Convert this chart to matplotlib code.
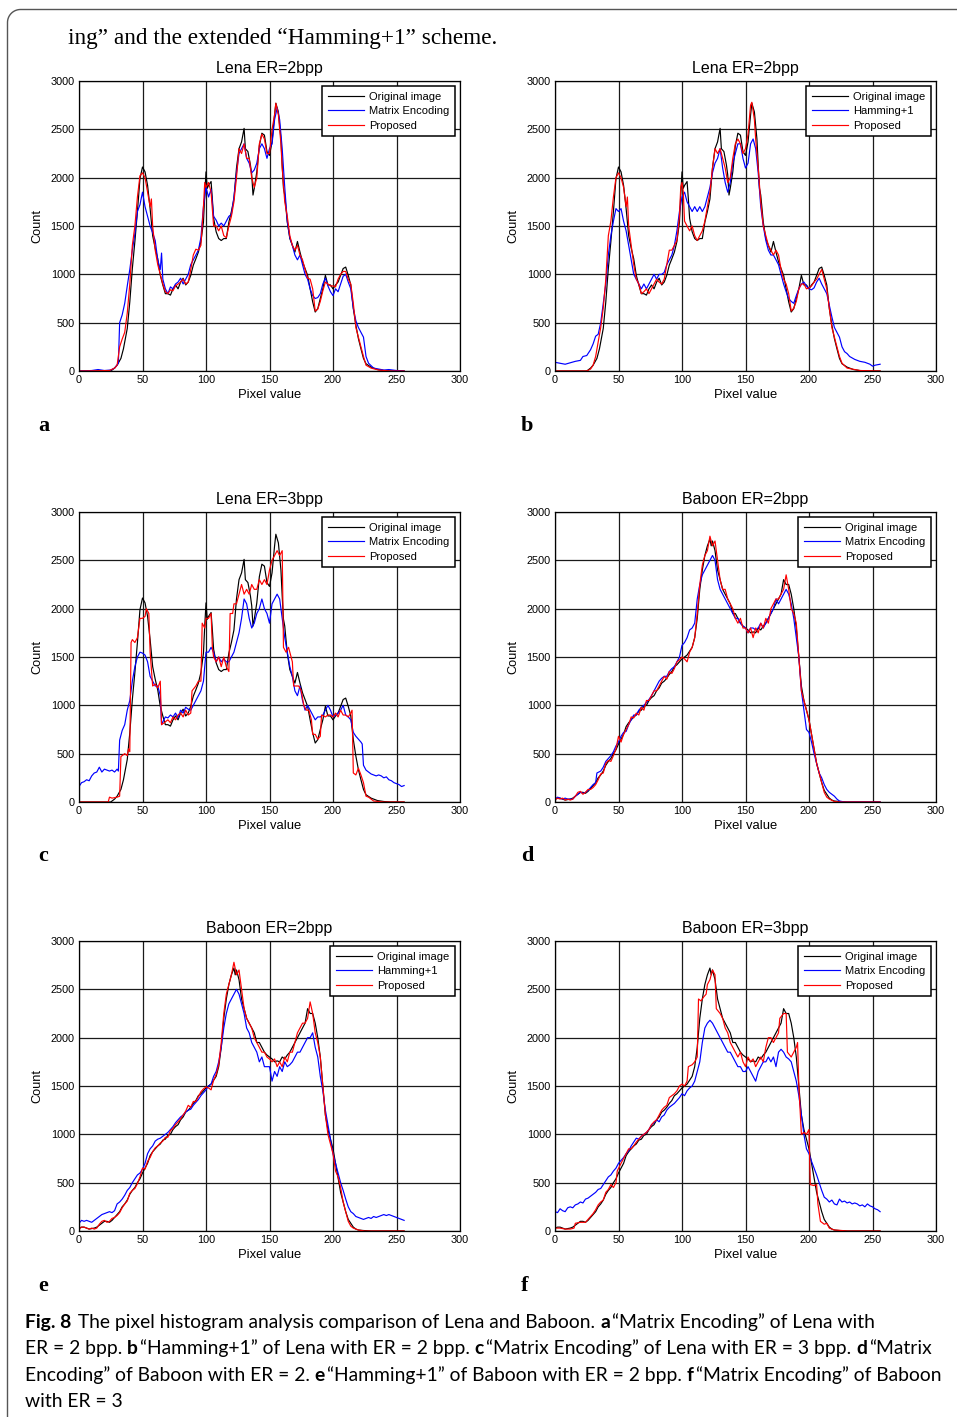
import numpy as np
import matplotlib
matplotlib.use("Agg")
import matplotlib.pyplot as plt
from matplotlib.lines import Line2D

plt.rcParams['font.family'] = ['Liberation Sans', 'DejaVu Sans']

# ---------------- data (pixel value: count) ----------------
lena_original = {0: 0, 25: 0, 28: 30, 30: 60, 33: 130, 35: 230, 38: 440, 40: 715, 42: 1060, 44: 1340, 46: 1650,
                 48: 1990, 50: 2110, 52: 2060, 54: 1920, 56: 1680, 58: 1400, 60: 1270, 62: 1160, 64: 990, 66: 890,
                 68: 800, 70: 800, 72: 785, 74: 850, 76: 890, 78: 850, 80: 920, 82: 960, 84: 890, 86: 920, 88: 990,
                 90: 1095, 92: 1160, 94: 1230, 96: 1340, 98: 1540, 99: 1820, 100: 2060, 101: 1890, 102: 1920,
                 104: 1960, 105: 1780, 106: 1580, 108: 1440, 110: 1370, 112: 1350, 114: 1370, 116: 1370, 118: 1540,
                 120: 1650, 122: 1780, 124: 2100, 126: 2300, 128: 2370, 130: 2510, 131: 2300, 133: 2270, 135: 2130,
                 136: 2030, 137: 1820, 138: 1890, 140: 2060, 142: 2330, 144: 2460, 146: 2440, 148: 2270, 150: 2230,
                 152: 2370, 154: 2650, 155: 2770, 157: 2680, 159: 2400, 160: 2130, 161: 1890, 162: 1820, 164: 1540,
                 166: 1370, 168: 1300, 170: 1230, 172: 1340, 174: 1230, 176: 1130, 178: 1060, 180: 990, 182: 850,
                 184: 715, 186: 610, 188: 645, 190: 750, 192: 850, 194: 990, 196: 890, 198: 890, 200: 850, 202: 890,
                 204: 920, 206: 990, 208: 1060, 210: 1075, 212: 990, 214: 890, 216: 645, 218: 475, 220: 335,
                 222: 230, 224: 130, 226: 75, 230: 40, 235: 15, 240: 5, 245: 0, 256: 0}

lena_me_2bpp = {0: 0, 10: 5, 15: 15, 20: 5, 25: 10, 28: 30, 31: 80, 32: 500, 34: 580, 36: 700, 38: 880, 40: 1050,
                42: 1250, 44: 1420, 46: 1650, 48: 1720, 50: 1850, 52: 1700, 54: 1600, 56: 1500, 58: 1430, 60: 1350,
                62: 1150, 64: 1050, 65: 1220, 66: 950, 68: 850, 70: 800, 72: 870, 74: 850, 76: 900, 78: 920, 80: 960,
                82: 900, 84: 950, 86: 1000, 88: 1100, 90: 1150, 92: 1200, 94: 1250, 96: 1380, 98: 1700, 100: 1900,
                102: 1800, 104: 1880, 106: 1600, 108: 1560, 110: 1500, 112: 1530, 114: 1500, 116: 1550, 118: 1600,
                120: 1620, 122: 1800, 124: 2050, 126: 2250, 128: 2300, 130: 2350, 132: 2200, 134: 2150, 136: 2050,
                138: 2080, 140: 2150, 142: 2300, 144: 2350, 146: 2300, 148: 2200, 150: 2300, 152: 2350, 154: 2600,
                156: 2720, 158: 2600, 160: 2300, 162: 1900, 164: 1550, 166: 1380, 168: 1300, 170: 1200, 172: 1150,
                174: 1200, 176: 1100, 178: 1000, 180: 950, 182: 850, 184: 780, 186: 750, 188: 760, 190: 800,
                192: 900, 194: 960, 196: 880, 198: 820, 200: 780, 202: 850, 204: 820, 206: 900, 208: 980, 210: 1000,
                212: 920, 214: 850, 216: 650, 218: 520, 220: 450, 222: 400, 224: 350, 226: 150, 228: 80, 232: 30,
                240: 10, 244: 15, 250: 5, 256: 0}

lena_prop_2bpp = {0: 0, 24: 5, 28: 30, 30: 60, 32: 250, 34: 330, 36: 400, 38: 600, 40: 900, 42: 1300, 44: 1500,
                  46: 1800, 48: 2020, 50: 2050, 52: 2000, 54: 1850, 56: 1700, 57: 1780, 58: 1500, 60: 1250, 62: 1100,
                  64: 1000, 66: 900, 68: 820, 70: 800, 72: 840, 74: 830, 76: 880, 78: 900, 80: 920, 82: 950, 84: 900,
                  86: 920, 88: 1050, 90: 1200, 92: 1260, 94: 1250, 96: 1300, 98: 1700, 99: 1950, 100: 1900,
                  102: 1950, 104: 1850, 106: 1500, 108: 1500, 110: 1450, 112: 1500, 114: 1400, 116: 1380, 118: 1500,
                  120: 1600, 122: 1750, 124: 2000, 126: 2300, 128: 2250, 130: 2350, 132: 2200, 134: 2200, 136: 2000,
                  138: 1900, 140: 2000, 142: 2350, 144: 2450, 146: 2400, 148: 2250, 150: 2250, 152: 2500, 154: 2650,
                  155: 2770, 157: 2650, 159: 2350, 160: 2100, 162: 1750, 164: 1600, 166: 1400, 168: 1300, 170: 1250,
                  172: 1300, 174: 1200, 176: 1150, 178: 1050, 180: 960, 182: 950, 184: 850, 186: 620, 188: 640,
                  190: 720, 192: 830, 194: 920, 196: 900, 198: 880, 200: 880, 202: 870, 204: 950, 206: 1000,
                  208: 1030, 210: 1030, 212: 950, 214: 900, 216: 700, 218: 450, 220: 350, 222: 250, 224: 150,
                  226: 60, 230: 30, 236: 10, 245: 0, 256: 0}

lena_h1_2bpp = {0: 90, 4: 80, 8: 70, 12: 85, 16: 100, 20: 110, 22: 150, 25: 160, 28: 220, 30: 280, 32: 360, 34: 380,
                36: 500, 38: 700, 40: 900, 42: 1200, 44: 1400, 46: 1550, 48: 1680, 50: 1650, 52: 1680, 54: 1550,
                56: 1450, 58: 1300, 60: 1150, 62: 1000, 64: 950, 66: 900, 68: 850, 70: 900, 72: 850, 74: 900,
                76: 950, 78: 1000, 80: 950, 82: 1000, 84: 1000, 86: 1020, 88: 1100, 90: 1150, 92: 1200, 94: 1300,
                96: 1450, 98: 1650, 100: 1800, 102: 1850, 104: 1750, 106: 1700, 108: 1650, 110: 1700, 112: 1650,
                114: 1700, 116: 1650, 118: 1700, 120: 1800, 122: 1900, 124: 2050, 126: 2150, 128: 2200, 130: 2300,
                132: 2100, 134: 1950, 136: 1850, 138: 1950, 140: 2150, 142: 2250, 144: 2350, 146: 2350, 148: 2200,
                150: 2100, 152: 2150, 154: 2350, 156: 2400, 158: 2300, 160: 2050, 162: 1700, 164: 1500, 166: 1350,
                168: 1250, 170: 1200, 172: 1200, 174: 1150, 176: 1100, 178: 1000, 180: 900, 182: 820, 184: 750,
                186: 720, 188: 700, 190: 780, 192: 850, 194: 900, 196: 920, 198: 880, 200: 850, 202: 840, 204: 860,
                206: 920, 208: 960, 210: 900, 212: 850, 214: 800, 216: 680, 218: 560, 220: 450, 222: 400, 224: 350,
                226: 250, 228: 200, 230: 180, 232: 150, 236: 120, 240: 100, 244: 90, 248: 70, 250: 50, 252: 60,
                256: 70}

lena_prop_h1 = {0: 0, 25: 0, 28: 20, 30: 60, 32: 150, 34: 300, 36: 450, 38: 650, 40: 950, 42: 1400, 44: 1550,
                46: 1800, 48: 2000, 50: 2050, 52: 2000, 54: 1900, 56: 1700, 57: 1800, 58: 1500, 60: 1300, 62: 1100,
                64: 950, 66: 900, 68: 800, 70: 820, 72: 850, 74: 800, 76: 850, 78: 900, 80: 950, 82: 920, 84: 900,
                86: 950, 88: 1100, 90: 1250, 92: 1250, 94: 1300, 96: 1350, 98: 1600, 99: 1900, 100: 1950, 101: 1850,
                102: 1550, 104: 1500, 106: 1450, 108: 1500, 110: 1400, 112: 1350, 114: 1400, 116: 1450, 118: 1550,
                120: 1700, 122: 1850, 124: 2100, 126: 2300, 128: 2250, 130: 2300, 132: 2200, 134: 2100, 136: 1950,
                138: 2000, 140: 2200, 142: 2350, 144: 2400, 146: 2350, 148: 2250, 150: 2300, 152: 2450, 154: 2750,
                155: 2780, 157: 2600, 158: 2400, 160: 2100, 162: 1750, 164: 1500, 166: 1400, 168: 1300, 170: 1250,
                172: 1200, 174: 1250, 176: 1200, 178: 1050, 180: 950, 182: 900, 184: 800, 186: 620, 188: 650,
                190: 720, 192: 850, 194: 900, 196: 900, 198: 850, 200: 860, 202: 880, 204: 920, 206: 950, 208: 1000,
                210: 1050, 212: 950, 214: 850, 216: 650, 218: 450, 220: 350, 222: 250, 224: 150, 226: 80, 230: 30,
                240: 5, 256: 0}

lena_me_3bpp = {0: 160, 2: 200, 4: 210, 6: 230, 8: 220, 10: 270, 12: 300, 14: 310, 16: 360, 18: 310, 20: 340,
                22: 330, 24: 320, 26: 330, 28: 310, 30: 340, 31: 320, 32: 640, 34: 740, 36: 800, 38: 950, 40: 1050,
                42: 1250, 44: 1400, 46: 1500, 48: 1550, 50: 1540, 52: 1520, 54: 1450, 56: 1300, 58: 1250, 60: 1200,
                62: 1200, 64: 1100, 65: 800, 66: 830, 68: 880, 70: 870, 72: 900, 74: 880, 76: 920, 78: 870, 80: 950,
                82: 920, 84: 980, 86: 960, 88: 950, 90: 1000, 92: 1050, 94: 1100, 96: 1150, 98: 1250, 100: 1550,
                102: 1550, 104: 1600, 106: 1550, 108: 1450, 110: 1500, 112: 1450, 114: 1480, 116: 1450, 118: 1450,
                120: 1500, 122: 1550, 124: 1650, 126: 1750, 128: 1900, 130: 2100, 132: 2050, 134: 1900, 136: 1800,
                138: 1850, 140: 1950, 142: 2000, 144: 2100, 146: 2000, 148: 1950, 150: 1850, 152: 2050, 154: 2100,
                156: 2150, 158: 2100, 160: 1900, 162: 1700, 164: 1550, 166: 1400, 168: 1300, 170: 1150, 172: 1100,
                174: 1200, 176: 1050, 178: 950, 180: 1000, 182: 950, 184: 900, 186: 850, 188: 880, 190: 880,
                192: 900, 194: 950, 196: 1000, 198: 950, 200: 880, 202: 900, 204: 920, 206: 950, 208: 1000, 210: 900,
                212: 880, 214: 850, 216: 720, 218: 680, 220: 650, 222: 620, 223: 600, 224: 380, 226: 330, 228: 310,
                230: 290, 232: 280, 234: 270, 236: 280, 238: 270, 240: 250, 242: 260, 244: 230, 246: 220, 248: 200,
                250: 190, 252: 180, 254: 160, 256: 170}

lena_prop_3bpp = {0: 0, 23: 0, 24: 50, 26: 40, 30: 50, 32: 60, 33: 470, 36: 500, 38: 480, 39: 550, 40: 520,
                  41: 1650, 42: 1680, 44: 1650, 46: 1700, 48: 1900, 50: 1900, 52: 1920, 53: 2000, 55: 1950, 56: 1550,
                  58: 1200, 60: 1220, 62: 1180, 64: 1250, 65: 800, 68: 830, 70: 850, 72: 820, 74: 880, 76: 850,
                  78: 900, 80: 920, 82: 880, 84: 950, 86: 900, 88: 920, 89: 1150, 92: 1200, 94: 1250, 96: 1250,
                  97: 1850, 99: 1800, 100: 1900, 102: 1900, 104: 1950, 105: 1600, 106: 1500, 108: 1450, 110: 1500,
                  112: 1400, 114: 1500, 116: 1400, 118: 1350, 119: 1950, 121: 1950, 122: 2050, 124: 2050, 126: 2150,
                  128: 2250, 130: 2150, 132: 2200, 134: 2150, 136: 2250, 138: 2200, 140: 2200, 142: 2300, 144: 2250,
                  146: 2300, 148: 2250, 150: 2400, 152: 2500, 154: 2550, 156: 2600, 158: 2550, 160: 2600, 161: 1600,
                  163: 1550, 165: 1600, 167: 1500, 168: 1450, 169: 1200, 171: 1200, 173: 1200, 175: 1150, 177: 1000,
                  179: 950, 181: 950, 183: 850, 184: 700, 186: 700, 188: 650, 190: 680, 191: 900, 194: 880, 196: 900,
                  198: 900, 200: 880, 202: 920, 204: 880, 206: 950, 208: 900, 210: 900, 212: 880, 214: 920, 215: 950,
                  216: 300, 218: 280, 220: 350, 222: 280, 224: 200, 226: 60, 228: 50, 230: 30, 232: 10, 236: 5,
                  240: 0, 256: 0}

baboon_original = {0: 30, 2: 40, 4: 40, 6: 30, 8: 20, 10: 25, 12: 30, 14: 40, 16: 60, 18: 80, 20: 100, 22: 100,
                   24: 90, 26: 110, 28: 140, 30: 170, 32: 200, 34: 250, 36: 280, 38: 320, 40: 380, 42: 420, 44: 450,
                   46: 500, 48: 540, 50: 600, 52: 650, 54: 700, 56: 780, 58: 820, 60: 850, 62: 880, 64: 900, 66: 940,
                   68: 950, 70: 990, 72: 1000, 74: 1050, 76: 1080, 78: 1100, 80: 1150, 82: 1180, 84: 1230, 86: 1250,
                   88: 1280, 90: 1320, 92: 1350, 94: 1400, 96: 1420, 98: 1450, 100: 1480, 102: 1500, 104: 1520,
                   106: 1560, 108: 1600, 110: 1700, 112: 1900, 114: 2200, 116: 2400, 118: 2550, 120: 2650, 122: 2720,
                   123: 2650, 124: 2700, 126: 2600, 128: 2400, 130: 2300, 132: 2200, 134: 2150, 136: 2100, 138: 2050,
                   140: 1950, 142: 1950, 144: 1900, 146: 1850, 148: 1820, 150: 1800, 152: 1780, 154: 1750, 156: 1760,
                   158: 1750, 160: 1800, 162: 1780, 164: 1820, 166: 1850, 168: 1900, 170: 1950, 172: 2000, 174: 2050,
                   176: 2100, 178: 2150, 180: 2300, 182: 2250, 184: 2250, 186: 2150, 188: 2000, 190: 1800, 192: 1500,
                   194: 1200, 196: 1050, 198: 950, 200: 850, 202: 700, 204: 550, 206: 400, 208: 300, 210: 200,
                   212: 120, 214: 80, 216: 40, 218: 20, 220: 10, 224: 5, 230: 0, 256: 0}

baboon_me_2bpp = {0: 30, 2: 50, 4: 40, 6: 30, 8: 40, 10: 30, 12: 30, 14: 30, 16: 60, 18: 80, 20: 100, 22: 90,
                  24: 100, 26: 120, 28: 150, 30: 180, 32: 200, 33: 300, 36: 320, 38: 360, 40: 420, 42: 450, 44: 480,
                  46: 520, 48: 580, 50: 620, 52: 680, 54: 720, 56: 730, 58: 800, 60: 850, 62: 900, 64: 900, 66: 950,
                  68: 980, 70: 1000, 72: 1030, 74: 1060, 76: 1100, 78: 1150, 80: 1200, 82: 1250, 84: 1280, 86: 1300,
                  88: 1300, 90: 1350, 92: 1380, 94: 1400, 96: 1450, 98: 1500, 100: 1620, 102: 1650, 104: 1700,
                  106: 1780, 108: 1800, 110: 1850, 112: 2100, 114: 2250, 116: 2350, 118: 2400, 120: 2450, 122: 2500,
                  124: 2550, 126: 2500, 128: 2300, 130: 2200, 132: 2150, 134: 2100, 136: 2050, 138: 2000, 140: 1950,
                  142: 1900, 144: 1900, 146: 1850, 148: 1820, 150: 1800, 152: 1750, 154: 1800, 156: 1800, 158: 1780,
                  160: 1800, 162: 1850, 164: 1800, 166: 1850, 168: 1900, 170: 1950, 172: 2000, 174: 2100, 176: 2050,
                  178: 2100, 180: 2150, 182: 2200, 184: 2150, 186: 2050, 188: 1900, 190: 1700, 192: 1500, 194: 1150,
                  196: 950, 198: 750, 200: 720, 202: 620, 204: 500, 206: 400, 208: 300, 210: 250, 212: 180, 214: 130,
                  216: 100, 218: 80, 220: 60, 222: 30, 224: 10, 228: 0, 256: 0}

baboon_prop_2bpp = {0: 20, 2: 40, 4: 30, 6: 40, 8: 20, 10: 30, 12: 20, 14: 30, 16: 60, 18: 100, 20: 110, 22: 80,
                    24: 100, 26: 130, 28: 130, 30: 150, 32: 180, 34: 230, 36: 290, 38: 300, 40: 400, 42: 430,
                    44: 420, 46: 480, 48: 550, 50: 680, 52: 620, 54: 700, 56: 750, 58: 800, 60: 880, 62: 870,
                    64: 920, 66: 900, 68: 980, 70: 950, 72: 1050, 74: 1050, 76: 1100, 78: 1150, 80: 1150, 82: 1200,
                    84: 1250, 86: 1300, 88: 1270, 90: 1350, 92: 1330, 94: 1380, 96: 1450, 98: 1470, 100: 1500,
                    102: 1480, 104: 1450, 106: 1550, 108: 1600, 110: 1700, 112: 1950, 114: 2250, 116: 2450,
                    118: 2550, 120: 2600, 122: 2750, 124: 2650, 126: 2700, 128: 2500, 130: 2300, 132: 2200,
                    134: 2200, 136: 2100, 138: 2050, 140: 2000, 142: 1900, 144: 1850, 146: 1900, 148: 1800,
                    150: 1800, 152: 1750, 154: 1800, 156: 1700, 158: 1800, 160: 1750, 162: 1850, 164: 1800,
                    166: 1900, 168: 1850, 170: 2000, 172: 2050, 174: 2100, 176: 2100, 178: 2150, 180: 2200,
                    182: 2350, 184: 2200, 186: 2000, 188: 1950, 190: 1850, 192: 1500, 194: 1150, 196: 1050, 198: 950,
                    200: 850, 202: 700, 204: 550, 206: 400, 208: 300, 210: 200, 212: 100, 214: 50, 216: 30, 220: 5,
                    225: 0, 256: 0}

baboon_h1_2bpp = {0: 80, 2: 110, 4: 100, 6: 110, 8: 100, 10: 90, 12: 110, 14: 130, 16: 150, 18: 170, 20: 180,
                  22: 190, 24: 200, 26: 190, 28: 210, 30: 280, 32: 300, 34: 330, 36: 370, 38: 420, 40: 450, 42: 500,
                  44: 540, 46: 580, 48: 600, 50: 640, 52: 700, 54: 800, 56: 850, 58: 880, 60: 930, 62: 950, 64: 960,
                  66: 980, 68: 1000, 70: 1020, 72: 1050, 74: 1080, 76: 1120, 78: 1150, 80: 1180, 82: 1200, 84: 1230,
                  86: 1250, 88: 1260, 90: 1300, 92: 1330, 94: 1360, 96: 1400, 98: 1430, 100: 1460, 102: 1500,
                  104: 1520, 106: 1600, 108: 1650, 110: 1750, 112: 1900, 114: 2100, 116: 2250, 118: 2350, 120: 2400,
                  122: 2450, 124: 2500, 126: 2450, 128: 2350, 130: 2250, 132: 2100, 134: 2050, 136: 1950, 138: 1900,
                  140: 1850, 142: 1750, 144: 1800, 146: 1700, 148: 1700, 150: 1700, 152: 1550, 154: 1650, 156: 1600,
                  158: 1700, 160: 1650, 162: 1750, 164: 1700, 166: 1720, 168: 1750, 170: 1800, 172: 1850, 174: 1850,
                  176: 1900, 178: 1950, 180: 2000, 182: 2000, 184: 2050, 186: 1900, 188: 1800, 190: 1600, 192: 1450,
                  194: 1250, 196: 1100, 198: 950, 200: 800, 202: 700, 204: 600, 206: 500, 208: 420, 210: 330,
                  212: 250, 214: 200, 216: 180, 218: 150, 220: 140, 222: 130, 224: 120, 226: 130, 228: 140,
                  230: 130, 232: 150, 234: 140, 236: 150, 238: 160, 240: 170, 242: 160, 244: 170, 246: 160,
                  248: 150, 250: 140, 252: 130, 254: 120, 256: 110}

baboon_prop_h1 = {0: 20, 2: 40, 4: 40, 6: 30, 8: 20, 10: 30, 12: 20, 14: 30, 16: 70, 18: 100, 20: 110, 22: 90,
                  24: 100, 26: 130, 28: 140, 30: 160, 32: 190, 34: 240, 36: 280, 38: 310, 40: 390, 42: 420, 44: 440,
                  46: 490, 48: 560, 50: 650, 52: 640, 54: 720, 56: 760, 58: 820, 60: 860, 62: 880, 64: 910, 66: 930,
                  68: 970, 70: 970, 72: 1040, 74: 1060, 76: 1100, 78: 1130, 80: 1160, 82: 1200, 84: 1240, 86: 1300,
                  88: 1280, 90: 1340, 92: 1340, 94: 1390, 96: 1440, 98: 1470, 100: 1490, 102: 1480, 104: 1460,
                  106: 1560, 108: 1620, 110: 1720, 112: 1950, 114: 2250, 116: 2450, 118: 2550, 120: 2650, 122: 2780,
                  124: 2650, 126: 2700, 128: 2500, 130: 2300, 132: 2200, 134: 2150, 136: 2100, 138: 2000, 140: 1950,
                  142: 1900, 144: 1850, 146: 1850, 148: 1800, 150: 1780, 152: 1750, 154: 1780, 156: 1700, 158: 1750,
                  160: 1700, 162: 1800, 164: 1750, 166: 1850, 168: 1850, 170: 1950, 172: 2050, 174: 2100, 176: 2150,
                  178: 2150, 180: 2200, 182: 2370, 184: 2250, 186: 2050, 188: 1950, 190: 1800, 192: 1500, 194: 1200,
                  196: 1000, 198: 900, 200: 800, 202: 620, 204: 560, 206: 450, 208: 300, 210: 200, 212: 100, 214: 50,
                  216: 30, 220: 10, 225: 0, 256: 0}

baboon_me_3bpp = {0: 200, 2: 190, 4: 230, 6: 210, 8: 200, 10: 240, 12: 250, 14: 240, 16: 270, 18: 280, 20: 300,
                  22: 290, 24: 330, 26: 340, 28: 360, 30: 380, 32: 400, 34: 430, 36: 440, 38: 480, 40: 520, 42: 560,
                  44: 580, 46: 620, 48: 650, 50: 700, 52: 730, 54: 760, 56: 800, 58: 830, 60: 880, 62: 920, 64: 960,
                  66: 950, 68: 980, 70: 1000, 72: 1020, 74: 1050, 76: 1100, 78: 1120, 80: 1150, 82: 1130, 84: 1180,
                  86: 1200, 88: 1250, 90: 1280, 92: 1300, 94: 1320, 96: 1350, 98: 1380, 100: 1420, 102: 1400,
                  104: 1450, 106: 1480, 108: 1500, 110: 1550, 112: 1650, 114: 1750, 116: 1950, 118: 2100, 120: 2150,
                  122: 2180, 124: 2150, 126: 2100, 128: 2050, 130: 2000, 132: 1950, 134: 1900, 136: 1850, 138: 1850,
                  140: 1800, 142: 1750, 144: 1700, 146: 1700, 148: 1650, 150: 1650, 152: 1700, 154: 1650, 156: 1600,
                  158: 1550, 160: 1650, 162: 1700, 164: 1750, 166: 1750, 168: 1800, 170: 1750, 172: 1800, 174: 1700,
                  176: 1850, 178: 1880, 180: 1850, 182: 1800, 184: 1780, 186: 1750, 188: 1650, 190: 1550, 192: 1400,
                  194: 1200, 196: 1000, 198: 850, 200: 800, 202: 720, 204: 650, 206: 580, 208: 500, 210: 420,
                  212: 350, 214: 330, 216: 300, 218: 320, 220: 280, 222: 270, 224: 330, 226: 300, 228: 310, 230: 290,
                  232: 300, 234: 280, 236: 290, 238: 280, 240: 260, 242: 270, 244: 250, 246: 280, 248: 260, 250: 250,
                  252: 230, 254: 220, 256: 200}

baboon_prop_3bpp = {0: 30, 4: 30, 8: 20, 12: 20, 15: 30, 16: 80, 20: 90, 24: 90, 26: 120, 28: 150, 30: 180,
                    32: 220, 34: 270, 36: 300, 38: 320, 40: 400, 42: 430, 44: 480, 46: 450, 48: 500, 49: 620,
                    52: 700, 54: 750, 56: 800, 58: 850, 60: 850, 62: 880, 64: 920, 66: 950, 68: 980, 70: 1000,
                    72: 1020, 74: 1050, 76: 1100, 78: 1130, 80: 1150, 82: 1200, 84: 1250, 86: 1280, 88: 1300,
                    90: 1380, 92: 1400, 94: 1420, 96: 1450, 98: 1500, 100: 1520, 102: 1500, 104: 1550, 105: 1700,
                    108: 1720, 110: 1750, 112: 1800, 113: 2400, 115: 2380, 117: 2420, 119: 2450, 120: 2550,
                    122: 2600, 124: 2700, 126: 2650, 127: 2300, 130: 2250, 132: 2200, 134: 2100, 136: 2050,
                    138: 1950, 140: 1900, 142: 1850, 144: 1800, 146: 1850, 148: 1750, 150: 1700, 152: 1800,
                    154: 1750, 156: 1780, 158: 1700, 160: 1750, 162: 1800, 164: 1750, 166: 1900, 168: 2000,
                    170: 2000, 172: 1950, 174: 2000, 176: 2050, 177: 2200, 180: 2250, 182: 2250, 183: 1850,
                    186: 1800, 188: 1850, 190: 1900, 191: 1950, 192: 1500, 194: 1000, 196: 1020, 198: 1000,
                    200: 1050, 201: 480, 204: 470, 206: 480, 207: 280, 209: 100, 212: 70, 214: 80, 216: 30, 220: 10,
                    226: 5, 230: 0, 256: 0}

panels = [
    ("Lena ER=2bpp", "Matrix Encoding", lena_original, lena_me_2bpp, lena_prop_2bpp, "a"),
    ("Lena ER=2bpp", "Hamming+1", lena_original, lena_h1_2bpp, lena_prop_h1, "b"),
    ("Lena ER=3bpp", "Matrix Encoding", lena_original, lena_me_3bpp, lena_prop_3bpp, "c"),
    ("Baboon ER=2bpp", "Matrix Encoding", baboon_original, baboon_me_2bpp, baboon_prop_2bpp, "d"),
    ("Baboon ER=2bpp", "Hamming+1", baboon_original, baboon_h1_2bpp, baboon_prop_h1, "e"),
    ("Baboon ER=3bpp", "Matrix Encoding", baboon_original, baboon_me_3bpp, baboon_prop_3bpp, "f"),
]
x_ticks = [0, 50, 100, 150, 200, 250, 300]
y_ticks = [0, 500, 1000, 1500, 2000, 2500, 3000]

# ---------------- layout ----------------
W, H = 957, 1417
fig = plt.figure(figsize=(W / 100, H / 100), dpi=100)


def fx(x):
    return x / W


def fy(y):
    return 1 - y / H


lefts = [79, 555]
tops = [81, 512, 941]
aw, ah = 381, 290
letter_pos = [(38, 431), (521, 431), (38, 861), (521, 861), (38, 1291), (521, 1291)]

for i, (title, method, orig, meth, prop, letter) in enumerate(panels):
    r, c = divmod(i, 2)
    L, T = lefts[c], tops[r]
    ax = fig.add_axes([fx(L), fy(T + ah), aw / W, ah / H])
    for d, col, lab in [(orig, 'black', 'Original image'), (meth, '#0000ff', method), (prop, '#ff0000', 'Proposed')]:
        ax.plot(list(d.keys()), list(d.values()), color=col, lw=0.85, label=lab)
    ax.set_xlim(0, 300)
    ax.set_ylim(0, 3000)
    ax.set_xticks(x_ticks)
    ax.set_yticks(y_ticks)
    ax.grid(True, color='#1a1a1a', lw=0.9)
    ax.set_axisbelow(True)
    for s in ax.spines.values():
        s.set_linewidth(0.9)
        s.set_color('black')
    ax.tick_params(direction='in', length=0, labelsize=7.8, pad=3)
    ax.set_title(title, fontsize=11.5, pad=6)
    ax.set_xlabel('Pixel value', fontsize=9.4, labelpad=3)
    ax.set_ylabel('Count', fontsize=9.2, labelpad=5)
    leg = ax.legend(loc='upper right', fontsize=8, handlelength=3.3, handletextpad=0.45, labelspacing=0.42,
                    borderpad=0.5, borderaxespad=0.45, fancybox=False, framealpha=1, edgecolor='black')
    leg.get_frame().set_linewidth(1.1)
    lx, ly = letter_pos[i]
    fig.text(fx(lx), fy(ly), letter, fontsize=16, fontweight='bold', family='Liberation Serif',
             ha='left', va='baseline')

# ---------------- texts ----------------
renderer = fig.canvas.get_renderer()


def seg_width(s, **kw):
    t1 = fig.text(0, 0, "x" + s + "x", **kw)
    t2 = fig.text(0, 0, "xx", **kw)
    w = t1.get_window_extent(renderer).width - t2.get_window_extent(renderer).width
    t1.remove()
    t2.remove()
    return w


def line_width(segs, size, family):
    return sum(seg_width(s, fontsize=size, family=family, fontweight=('bold' if b else 'normal')) for s, b in segs)


def draw_line(x, y, segs, size, family):
    for s, b in segs:
        kw = dict(fontsize=size, family=family, fontweight=('bold' if b else 'normal'))
        fig.text(fx(x), fy(y), s, ha='left', va='baseline', **kw)
        x += seg_width(s, **kw)
        if b:
            x += 2


top_segs = [("ing\u201d and the extended \u201cHamming+1\u201d scheme.", False)]
ts = 10 * 429 / line_width(top_segs, 10, 'Liberation Serif')
draw_line(68, 44, top_segs, ts, 'Liberation Serif')

cap_lines = [
    [("Fig. 8", True), (" The pixel histogram analysis comparison of Lena and Baboon. ", False), ("a", True),
     ("\u201cMatrix Encoding\u201d of Lena with", False)],
    [("ER = 2 bpp. ", False), ("b", True), ("\u201cHamming+1\u201d of Lena with ER = 2 bpp. ", False), ("c", True),
     ("\u201cMatrix Encoding\u201d of Lena with ER = 3 bpp. ", False), ("d", True), ("\u201cMatrix", False)],
    [("Encoding\u201d of Baboon with ER = 2. ", False), ("e", True),
     ("\u201cHamming+1\u201d of Baboon with ER = 2 bpp. ", False), ("f", True),
     ("\u201cMatrix Encoding\u201d of Baboon", False)],
    [("with ER = 3", False)],
]
cap_targets = [859, 918, 912]
cap_font = 'Lato'
cs = min(10 * t / line_width(seg, 10, cap_font) for seg, t in zip(cap_lines[:3], cap_targets))
for k, segs in enumerate(cap_lines):
    draw_line(25, 1328 + 26.4 * k, segs, cs, cap_font)

# ---------------- page border ----------------
rad = 13
theta = np.linspace(np.pi, 1.5 * np.pi, 20)
arc_x = 7.5 + rad + rad * np.cos(theta)
arc_y = 9.5 + rad + rad * np.sin(theta)
bx = np.concatenate([[7.5], arc_x, [W + 5]])
by = np.concatenate([[H + 5], arc_y, [9.5]])
fig.add_artist(Line2D(fx(bx), fy(by), transform=fig.transFigure, color='#555555', lw=1.0))

fig.savefig('out.png', dpi=100)
